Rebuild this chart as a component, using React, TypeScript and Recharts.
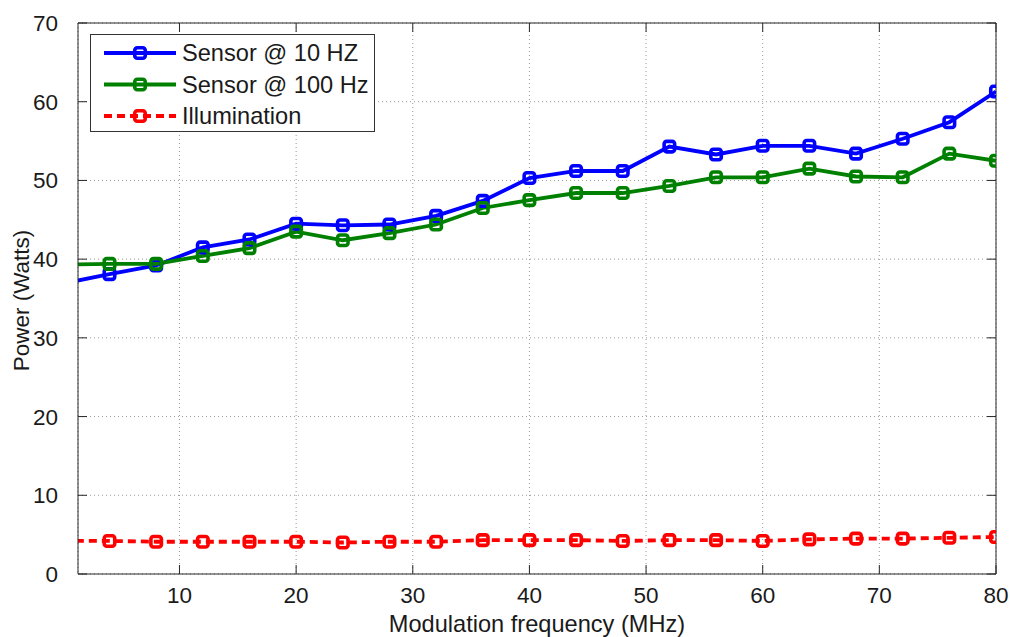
import React from 'react';
import { LineChart, Line, XAxis, YAxis, CartesianGrid, Legend, ReferenceLine } from 'recharts';

// Modulation frequency (MHz) at each measurement
const frequencies = [0, 4, 8, 12, 16, 20, 24, 28, 32, 36, 40, 44, 48, 52, 56, 60, 64, 68, 72, 76, 80];
// Measured power (Watts)
const sensor10Hz = [36.9, 38.1, 39.2, 41.5, 42.5, 44.5, 44.3, 44.4, 45.5, 47.4, 50.3, 51.2, 51.2, 54.3, 53.3, 54.4, 54.4, 53.4, 55.3, 57.4, 61.3];
const sensor100Hz = [39.3, 39.4, 39.4, 40.4, 41.4, 43.5, 42.4, 43.3, 44.4, 46.5, 47.5, 48.4, 48.4, 49.3, 50.4, 50.4, 51.5, 50.5, 50.4, 53.4, 52.5];
const illumination = [4.2, 4.2, 4.1, 4.1, 4.1, 4.1, 4.0, 4.1, 4.1, 4.3, 4.3, 4.3, 4.2, 4.3, 4.3, 4.2, 4.4, 4.5, 4.5, 4.6, 4.7];

const xTicks = [10, 20, 30, 40, 50, 60, 70, 80];
const yTicks = [0, 10, 20, 30, 40, 50, 60, 70];
const xDomain: [number, number] = [1.3, 80];
const yDomain: [number, number] = [0, 70];

const seriesNames = ['Sensor @ 10 HZ', 'Sensor @ 100 Hz', 'Illumination'];
const seriesColors = ['#0000ff', '#008000', '#ff0000'];

const data = frequencies.map((f, i) => ({
  f,
  s10: sensor10Hz[i],
  s100: sensor100Hz[i],
  illum: illumination[i],
}));

const WIDTH = 1010;
const HEIGHT = 637;
const MARGIN = { top: 23, right: 14, bottom: 0, left: 0 };
const Y_AXIS_W = 78;
const X_AXIS_H = 63;
const PLOT_TOP = MARGIN.top;
const PLOT_RIGHT = WIDTH - MARGIN.right;
const TICK_LEN = 9;
const FONT = '"Liberation Sans", Arial, Helvetica, sans-serif';
const INK = '#1a1a1a';
const AXIS = '#262626';
const LINE_W = 3.8;
const DASH = '8 5';

const SquareMarker = (props: any) => {
  const { cx, cy, stroke } = props;
  if (cx == null || cy == null) return null;
  const s = 10.5;
  return (
    <rect x={cx - s / 2} y={cy - s / 2} width={s} height={s} rx={2.5} ry={2.5}
      fill="none" stroke={stroke} strokeWidth={3.6} />
  );
};

const BottomTick = (props: any) => {
  const { x, y, payload } = props;
  return (
    <g>
      <line x1={x} x2={x} y1={y} y2={y - TICK_LEN} stroke={AXIS} strokeWidth={1} />
      <line x1={x} x2={x} y1={PLOT_TOP} y2={PLOT_TOP + TICK_LEN} stroke={AXIS} strokeWidth={1} />
      <text x={x} y={y + 29} textAnchor="middle" fontFamily={FONT} fontSize={22.5} fill={INK}>
        {payload.value}
      </text>
    </g>
  );
};

const LeftTick = (props: any) => {
  const { x, y, payload } = props;
  return (
    <g>
      <line x1={x} x2={x + TICK_LEN} y1={y} y2={y} stroke={AXIS} strokeWidth={1} />
      <line x1={PLOT_RIGHT} x2={PLOT_RIGHT - TICK_LEN} y1={y} y2={y} stroke={AXIS} strokeWidth={1} />
      <text x={x - 20} y={y + 8} textAnchor="end" fontFamily={FONT} fontSize={22.5} fill={INK}>
        {payload.value}
      </text>
    </g>
  );
};

const LegendBox = () => (
  <div
    style={{
      width: 283,
      height: 96,
      border: '1px solid #333',
      background: '#fff',
      boxSizing: 'content-box',
    }}
  >
    <svg width={283} height={96}>
      {seriesNames.map((name, i) => {
        const cy = 18 + i * 31.5;
        return (
          <g key={name}>
            <line x1={13} x2={85} y1={cy} y2={cy} stroke={seriesColors[i]} strokeWidth={LINE_W}
              strokeDasharray={i === 2 ? DASH : undefined} />
            <SquareMarker cx={49} cy={cy} stroke={seriesColors[i]} />
            <text x={91} y={cy + 8} fontFamily={FONT} fontSize={23.6} fill={INK}>{name}</text>
          </g>
        );
      })}
    </svg>
  </div>
);

export default function App() {
  return (
    <div style={{ position: 'absolute', left: 0, top: 0, width: WIDTH, height: HEIGHT, background: '#fff' }}>
      <LineChart width={WIDTH} height={HEIGHT} data={data} margin={MARGIN}>
        <CartesianGrid stroke="#9a9a9a" strokeDasharray="1 3" strokeWidth={1} />
        <XAxis
          dataKey="f"
          type="number"
          domain={xDomain}
          ticks={xTicks}
          allowDataOverflow
          height={X_AXIS_H}
          tickLine={false}
          tickSize={0}
          tickMargin={0}
          tick={<BottomTick />}
          axisLine={{ stroke: AXIS, strokeWidth: 1 }}
          label={{
            value: 'Modulation frequency (MHz)',
            position: 'insideBottom',
            offset: 5,
            fill: INK,
            fontSize: 23.6,
            fontFamily: FONT,
          }}
        />
        <YAxis
          type="number"
          domain={yDomain}
          ticks={yTicks}
          allowDataOverflow
          width={Y_AXIS_W}
          tickLine={false}
          tickSize={0}
          tickMargin={0}
          tick={<LeftTick />}
          axisLine={{ stroke: AXIS, strokeWidth: 1 }}
          label={{
            content: (p: any) => {
              const vb = p.viewBox || {};
              const cy = (vb.y ?? 23) + (vb.height ?? 551) / 2 + 2;
              return (
                <text x={29} y={cy} transform={`rotate(-90, 29, ${cy})`} textAnchor="middle"
                  fontFamily={FONT} fontSize={22.5} fill={INK}>
                  Power (Watts)
                </text>
              );
            },
          }}
        />
        <ReferenceLine y={70} stroke={AXIS} strokeWidth={1} ifOverflow="extendDomain" />
        <ReferenceLine x={80} stroke={AXIS} strokeWidth={1} ifOverflow="extendDomain" />
        <Line dataKey="s10" name={seriesNames[0]} stroke={seriesColors[0]} strokeWidth={LINE_W}
          dot={<SquareMarker />} activeDot={false} isAnimationActive={false} />
        <Line dataKey="s100" name={seriesNames[1]} stroke={seriesColors[1]} strokeWidth={LINE_W}
          dot={<SquareMarker />} activeDot={false} isAnimationActive={false} />
        <Line dataKey="illum" name={seriesNames[2]} stroke={seriesColors[2]} strokeWidth={LINE_W}
          strokeDasharray={DASH} dot={<SquareMarker />} activeDot={false} isAnimationActive={false} />
        <Legend
          layout="vertical"
          align="center"
          verticalAlign="middle"
          content={<LegendBox />}
          wrapperStyle={{ left: 90, top: 34, width: 285, height: 98 }}
        />
      </LineChart>
    </div>
  );
}
